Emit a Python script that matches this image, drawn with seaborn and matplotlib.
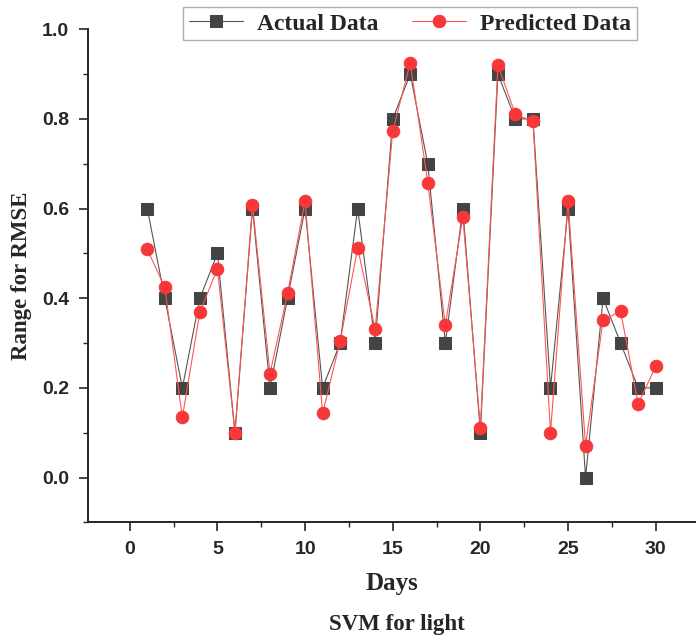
import matplotlib
matplotlib.use("Agg")
import matplotlib.pyplot as plt
import seaborn as sns
import pandas as pd
from matplotlib.ticker import MultipleLocator

days = list(range(1, 31))
actual = [0.6, 0.4, 0.2, 0.4, 0.5, 0.1, 0.6, 0.2, 0.4, 0.6,
          0.2, 0.3, 0.6, 0.3, 0.8, 0.9, 0.7, 0.3, 0.6, 0.1,
          0.9, 0.8, 0.8, 0.2, 0.6, 0.0, 0.4, 0.3, 0.2, 0.2]
predicted = [0.509, 0.424, 0.134, 0.369, 0.466, 0.100, 0.608, 0.232, 0.411, 0.617,
             0.143, 0.304, 0.512, 0.331, 0.773, 0.925, 0.658, 0.340, 0.582, 0.111,
             0.920, 0.810, 0.795, 0.100, 0.617, 0.071, 0.351, 0.371, 0.164, 0.248]

sns.set_style("ticks")
plt.rcParams['font.family'] = ['Liberation Sans', 'DejaVu Sans']

df = pd.DataFrame({"Days": days, "Actual": actual, "Predicted": predicted})

fig = plt.figure(figsize=(6.96, 6.37), dpi=100)
ax = fig.add_axes([0.126, 0.180, 0.874, 0.774])

sns.lineplot(data=df, x="Days", y="Actual", ax=ax, color="#555555", lw=0.8,
             marker="s", markersize=8, markerfacecolor="#444444",
             markeredgecolor="#444444", label="Actual Data")
sns.lineplot(data=df, x="Days", y="Predicted", ax=ax, color="#ff5555", lw=0.8,
             marker="o", markersize=9, markerfacecolor="#f83838",
             markeredgecolor="#f83838", label="Predicted Data")

ax.set_xlim(-2.4, 32.3)
ax.set_ylim(-0.1, 1.0)
ax.set_xticks([0, 5, 10, 15, 20, 25, 30])
ax.set_yticks([0.0, 0.2, 0.4, 0.6, 0.8, 1.0])
ax.xaxis.set_minor_locator(MultipleLocator(2.5))
ax.yaxis.set_minor_locator(MultipleLocator(0.1))
ax.yaxis.set_major_formatter(matplotlib.ticker.FormatStrFormatter("%.1f"))
ax.tick_params(which="major", length=6.5, width=1.2, labelsize=14, pad=7)
ax.tick_params(which="minor", length=3.5, width=1.0)
for lab in ax.get_xticklabels() + ax.get_yticklabels():
    lab.set_fontweight("bold")

for s in ["top", "right"]:
    ax.spines[s].set_visible(False)
for s in ["left", "bottom"]:
    ax.spines[s].set_linewidth(1.4)

serif = dict(family=["Liberation Serif", "DejaVu Serif"], weight="bold")
ax.set_xlabel("Days", fontsize=18, labelpad=10, **serif)
ax.set_ylabel("Range for RMSE", fontsize=16.5, labelpad=7, **serif)
fig.text(0.57, 0.02, "SVM for light", ha="center", va="center", fontsize=16.5, **serif)

leg = ax.legend(loc="upper center", bbox_to_anchor=(0.53, 1.045), ncol=2,
                frameon=True, fancybox=False, edgecolor="#999999",
                prop=dict(family=["Liberation Serif", "DejaVu Serif"], weight="bold", size=17),
                handlelength=2.3, columnspacing=1.4, borderpad=0.25, handletextpad=0.6,
                borderaxespad=0.0)
leg.get_frame().set_linewidth(1.0)

fig.savefig("out.png", dpi=100)
